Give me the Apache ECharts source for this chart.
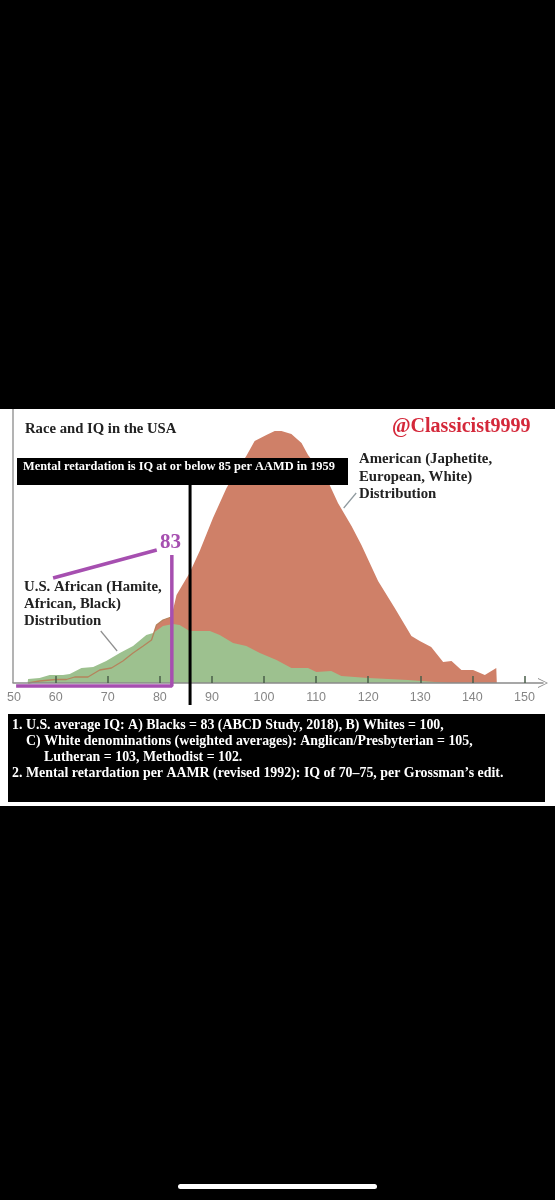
<!DOCTYPE html>
<html>
<head>
<meta charset="utf-8">
<style>
    html, body { margin: 0; padding: 0; background: #000; }
    #main { width: 555px; height: 1200px; }
</style>
<script src="https://cdn.jsdelivr.net/npm/echarts@6/dist/echarts.min.js"></script>
</head>
<body>
<div id="main"></div>
<script>
    // 横轴刻度
    var tickValues = [60, 70, 80, 90, 100, 110, 120, 130, 140, 150];
    var labelValues = [52, 60, 70, 80, 90, 100, 110, 120, 130, 140, 150];
    var tickLabels = ['50', '60', '70', '80', '90', '100', '110', '120', '130', '140', '150'];
    var labelLevel = -15;

    // American distribution
    var whiteIq = [54.7, 56.9, 60, 62.05, 63.65, 66.2, 68.45, 70.7, 72.9, 74.85, 76.8, 78.4, 79.35, 80.6, 82.2, 83.2, 85.7, 87.65, 90.2, 92.8, 94.7, 96.6, 98.2, 100.45, 102.05, 103.35, 105.25, 107.2, 108.45, 110.4, 112.6, 114.2, 116.8, 118.7, 121.9, 125.1, 128.3, 129.9, 132.1, 134.4, 136, 137.9, 140.15, 142.4, 144.6, 144.7];
    var whiteValues = [0, 2, 3.5, 3.5, 6, 6, 13, 15, 22, 30, 37, 43, 58, 63, 66, 88, 110, 132, 165, 195, 212, 227, 242, 248, 252, 252, 249, 240, 228, 215, 198, 180, 157, 138, 102, 75, 47, 42, 36, 21, 22, 13, 13, 8, 15, 0];

    // U.S. African distribution
    var blackIq = [54.6, 54.7, 56.9, 58.85, 61.4, 62.7, 64.95, 67.2, 69.7, 72.3, 74.85, 77.4, 78.7, 80.6, 82.5, 83.8, 85.7, 89.6, 91.5, 94.05, 96.6, 99.2, 102.4, 105.25, 108.45, 110.05, 112.9, 114.85, 120, 127.65, 135.35];
    var blackValues = [0, 4, 5, 8, 8, 9, 15, 16, 22, 30, 37, 48, 50, 57, 59, 58, 52, 52, 48, 40, 37, 30, 23, 15, 15, 11, 12, 7, 5, 3, 0];

    // 标注线
    var cutoffIq = [85.8, 85.8];
    var cutoffLevel = [-22, 198];
    var meanIq = [52.4, 82.3, 82.3];
    var meanLevel = [-3, -3, 128];
    var pointerIq = [59.5, 79.4];
    var pointerLevel = [105, 133];
    var leftAxisIq = [51.8, 51.8];
    var leftAxisLevel = [0, 274];
    var blackLeaderIq = [68.65, 71.8];
    var blackLeaderLevel = [52, 32];
    var whiteLeaderIq = [117.7, 115.3];
    var whiteLeaderLevel = [190, 175];

    function zip(xs, ys) {
        return xs.map(function (x, i) {
            return [x, ys[i]];
        });
    }

    function plainLine(name, xs, ys, color, width, z) {
        return {
            name: name,
            type: 'line',
            data: zip(xs, ys),
            symbol: 'none',
            clip: false,
            z: z,
            lineStyle: { color: color, width: width }
        };
    }

    function areaSeries(name, xs, ys, color, z) {
        return {
            name: name,
            type: 'line',
            data: zip(xs, ys),
            symbol: 'none',
            z: z,
            lineStyle: { width: 0 },
            areaStyle: { color: color, opacity: 1, origin: 0 }
        };
    }

    var serif = '"Liberation Serif", serif';

    function note(x, y, text, color, size) {
        return {
            type: 'text',
            x: x,
            y: y,
            z: 100,
            style: {
                text: text,
                fill: color,
                font: 'bold ' + size + 'px ' + serif,
                verticalAlign: 'middle',
                lineHeight: 17
            }
        };
    }

    var myChart = echarts.init(document.getElementById('main'));
    myChart.setOption({
        animation: false,
        backgroundColor: '#000',
        grid: { left: 13, top: 409, width: 530, height: 296 },
        xAxis: {
            type: 'value',
            min: 51.8,
            max: 153.57,
            z: 5,
            splitLine: { show: false },
            axisLine: {
                onZero: true,
                lineStyle: { color: '#8a8a8a', width: 1.5 },
                symbol: ['none', 'path://M0 20L10 0L20 20L18 20L10 3L2 20Z'],
                symbolSize: [10, 17]
            },
            axisTick: {
                inside: true,
                length: 7,
                customValues: tickValues,
                lineStyle: { color: '#4a5f4a', width: 1.5 }
            },
            axisLabel: { show: false }
        },
        yAxis: {
            type: 'value',
            min: -22,
            max: 274,
            show: false
        },
        series: [
            areaSeries('American', whiteIq, whiteValues, '#cf8068', 2),
            areaSeries('U.S. African', blackIq, blackValues, '#9dc18f', 3),
            plainLine('American tail', whiteIq.slice(0, 15), whiteValues.slice(0, 15), '#b5835c', 1.3, 4),
            plainLine('left axis', leftAxisIq, leftAxisLevel, '#9a9a9a', 1.5, 4),
            plainLine('leader black', blackLeaderIq, blackLeaderLevel, '#8f8f8f', 1.2, 6),
            plainLine('leader white', whiteLeaderIq, whiteLeaderLevel, '#8f9a9f', 1.2, 6),
            plainLine('cutoff', cutoffIq, cutoffLevel, '#000', 3, 7),
            plainLine('mean', meanIq, meanLevel, '#a64fb0', 3.5, 8),
            plainLine('pointer', pointerIq, pointerLevel, '#a64fb0', 3.5, 8),
            {
                // 刻度文字
                name: 'tick labels',
                type: 'scatter',
                silent: true,
                symbolSize: 1,
                z: 6,
                itemStyle: { color: 'rgba(0,0,0,0)' },
                data: labelValues.map(function (v, i) {
                    return {
                        value: [v, labelLevel],
                        label: {
                            show: true,
                            position: 'inside',
                            formatter: tickLabels[i],
                            color: '#666',
                            fontSize: 12.5,
                            fontFamily: '"Liberation Sans", sans-serif'
                        }
                    };
                })
            }
        ],
        graphic: {
            elements: [
                { type: 'rect', z: -10, shape: { x: 0, y: 409, width: 555, height: 397 }, style: { fill: '#fff' } },
                { type: 'rect', z: 90, shape: { x: 17, y: 458, width: 331, height: 27 }, style: { fill: '#000' } },
                { type: 'rect', z: 90, shape: { x: 8, y: 714, width: 537, height: 88 }, style: { fill: '#000' } },
                { type: 'rect', z: 90, shape: { x: 178, y: 1184, width: 199, height: 5, r: 2.5 }, style: { fill: '#fff' } },
                note(25, 429, 'Race and IQ in the USA', '#222', 14.7),
                note(392, 427, '@Classicist9999', '#d4283a', 20),
                note(23, 467, 'Mental retardation is IQ at or below 85 per AAMD in 1959', '#fff', 12.4),
                note(359, 459, 'American (Japhetite,', '#222', 14.8),
                note(359, 477, 'European, White)', '#222', 14.8),
                note(359, 494, 'Distribution', '#222', 14.8),
                note(24, 587, 'U.S. African (Hamite,', '#222', 14.8),
                note(24, 604, 'African, Black)', '#222', 14.8),
                note(24, 621, 'Distribution', '#222', 14.8),
                note(160, 543, '83', '#a64fb0', 21),
                note(12, 725, '1. U.S. average IQ: A) Blacks = 83 (ABCD Study, 2018), B) Whites = 100,', '#fff', 13.9),
                note(26, 741, 'C) White denominations (weighted averages): Anglican/Presbyterian = 105,', '#fff', 13.9),
                note(44, 757, 'Lutheran = 103, Methodist = 102.', '#fff', 13.9),
                note(12, 773, '2. Mental retardation per AAMR (revised 1992): IQ of 70\u201375, per Grossman\u2019s edit.', '#fff', 13.9)
            ]
        }
    });
</script>
</body>
</html>
